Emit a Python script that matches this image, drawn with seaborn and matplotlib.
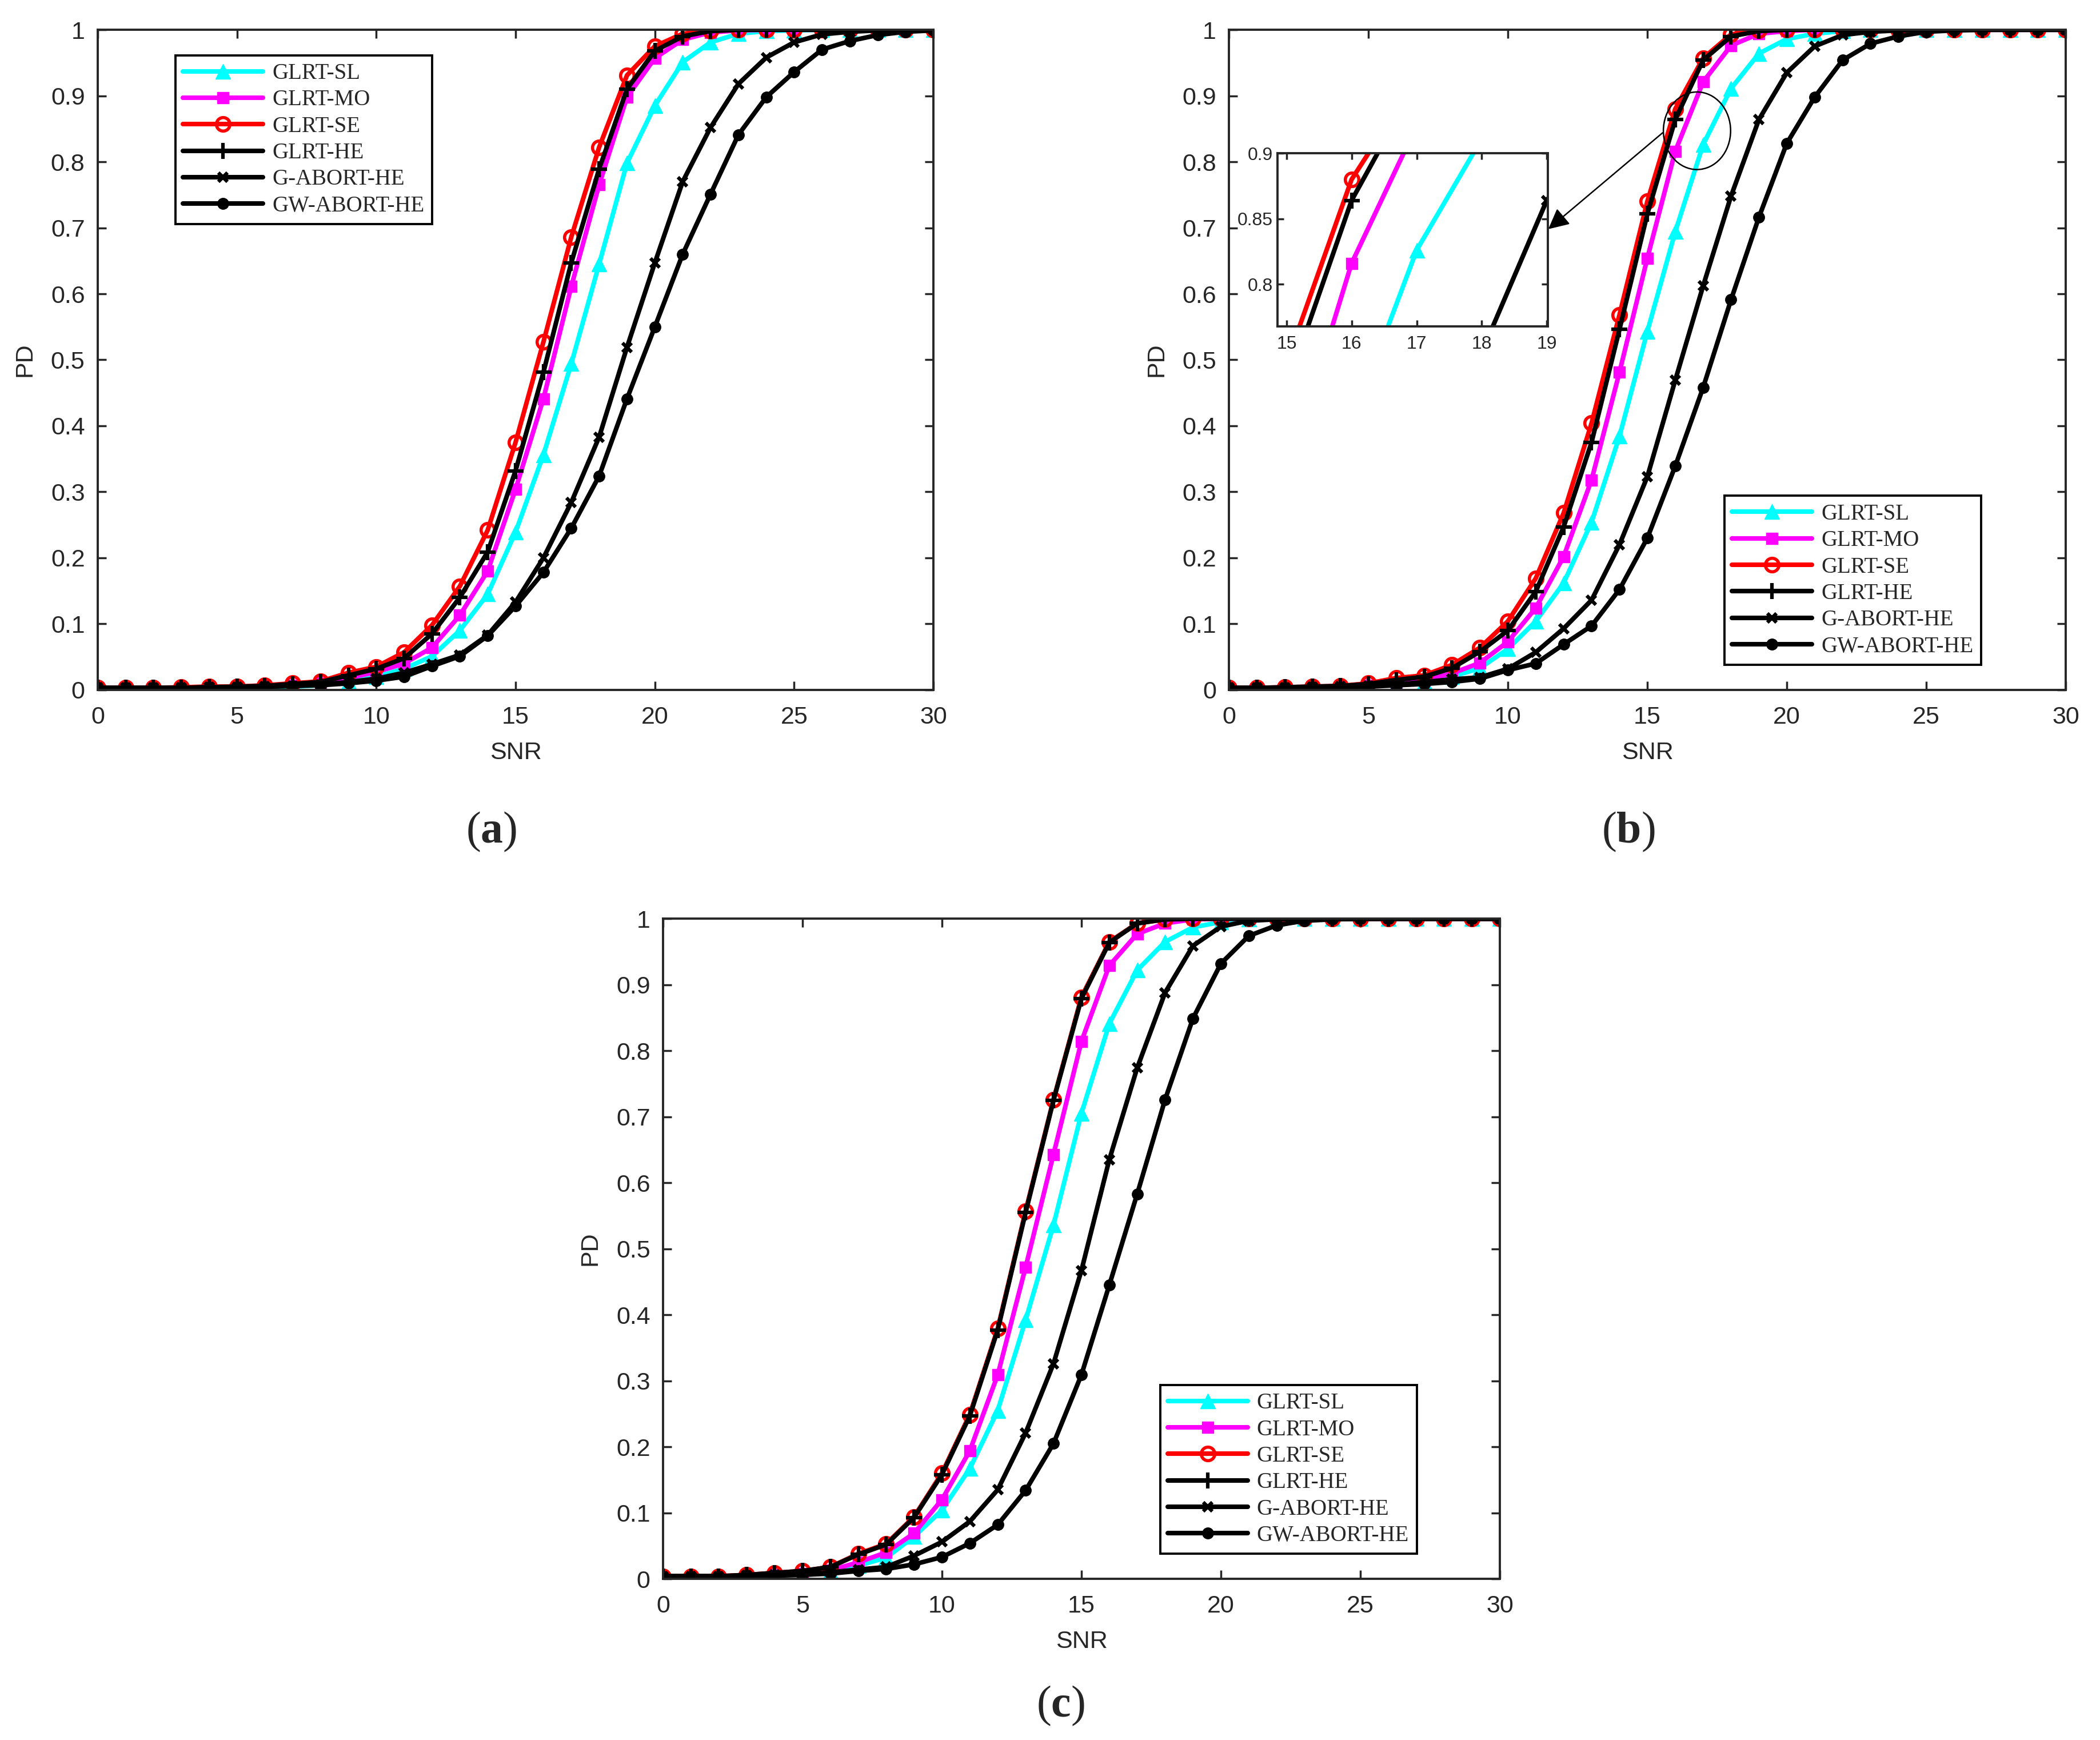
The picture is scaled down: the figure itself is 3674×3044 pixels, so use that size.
import matplotlib
matplotlib.use('Agg')
import matplotlib.pyplot as plt
from matplotlib.patches import Ellipse
from matplotlib.ticker import FuncFormatter
import seaborn as sns

sns.set_style('ticks')
plt.rcParams['font.family'] = ['Liberation Sans', 'DejaVu Sans']
plt.rcParams['mathtext.fontset'] = 'custom'
plt.rcParams['mathtext.rm'] = 'Liberation Serif'
plt.rcParams['mathtext.bf'] = 'Liberation Serif:bold'

snr = list(range(31))
methods = ['GLRT-SL', 'GLRT-MO', 'GLRT-SE', 'GLRT-HE', 'G-ABORT-HE', 'GW-ABORT-HE']
x_ticks = [0, 5, 10, 15, 20, 25, 30]
y_ticks = [0, 0.1, 0.2, 0.3, 0.4, 0.5, 0.6, 0.7, 0.8, 0.9, 1]

# ---- panel (a) ----
sl_a = [0.002, 0.002, 0.002, 0.002, 0.003, 0.003, 0.004, 0.005, 0.007, 0.012, 0.020, 0.032, 0.051, 0.090, 0.145, 0.239,
        0.356, 0.494, 0.645, 0.798, 0.885, 0.951, 0.981, 0.994, 0.998, 0.999, 1, 1, 1, 1, 1]
mo_a = [0.003, 0.003, 0.003, 0.003, 0.004, 0.004, 0.005, 0.007, 0.010, 0.018, 0.027, 0.040, 0.064, 0.113, 0.180, 0.304,
        0.441, 0.611, 0.765, 0.898, 0.957, 0.985, 0.996, 0.999, 1, 1, 1, 1, 1, 1, 1]
se_a = [0.003, 0.003, 0.003, 0.004, 0.005, 0.005, 0.007, 0.010, 0.013, 0.026, 0.035, 0.057, 0.098, 0.157, 0.242, 0.375,
        0.527, 0.686, 0.822, 0.931, 0.975, 0.994, 0.998, 1, 1, 1, 1, 1, 1, 1, 1]
he_a = [0.003, 0.003, 0.003, 0.003, 0.004, 0.005, 0.006, 0.009, 0.012, 0.022, 0.032, 0.048, 0.085, 0.140, 0.209, 0.332,
        0.481, 0.647, 0.789, 0.910, 0.968, 0.990, 0.998, 1, 1, 1, 1, 1, 1, 1, 1]
ga_a = [0.003, 0.003, 0.003, 0.003, 0.004, 0.004, 0.005, 0.006, 0.008, 0.012, 0.017, 0.026, 0.039, 0.053, 0.083, 0.133,
        0.200, 0.284, 0.383, 0.519, 0.647, 0.770, 0.852, 0.918, 0.958, 0.981, 0.993, 0.997, 0.999, 1, 1]
gw_a = [0.003, 0.003, 0.003, 0.003, 0.004, 0.004, 0.005, 0.006, 0.007, 0.010, 0.014, 0.020, 0.036, 0.051, 0.082, 0.127,
        0.178, 0.245, 0.324, 0.441, 0.550, 0.660, 0.751, 0.841, 0.898, 0.936, 0.970, 0.983, 0.992, 0.997, 0.999]

# ---- panel (b) ----
sl_b = [0.002, 0.002, 0.003, 0.003, 0.004, 0.006, 0.009, 0.012, 0.020, 0.033, 0.062, 0.104, 0.162, 0.254, 0.384, 0.543,
        0.694, 0.826, 0.911, 0.964, 0.986, 0.994, 0.998, 1, 1, 1, 1, 1, 1, 1, 1]
mo_b = [0.002, 0.002, 0.003, 0.004, 0.005, 0.007, 0.011, 0.015, 0.025, 0.041, 0.073, 0.124, 0.202, 0.318, 0.481, 0.654,
        0.816, 0.921, 0.976, 0.994, 0.998, 1, 1, 1, 1, 1, 1, 1, 1, 1, 1]
se_b = [0.003, 0.003, 0.004, 0.005, 0.006, 0.010, 0.018, 0.022, 0.038, 0.064, 0.104, 0.169, 0.268, 0.404, 0.568, 0.740,
        0.880, 0.957, 0.993, 0.999, 1, 1, 1, 1, 1, 1, 1, 1, 1, 1, 1]
he_b = [0.003, 0.003, 0.004, 0.005, 0.006, 0.009, 0.015, 0.020, 0.033, 0.058, 0.090, 0.149, 0.247, 0.375, 0.546, 0.721,
        0.864, 0.954, 0.990, 0.998, 1, 1, 1, 1, 1, 1, 1, 1, 1, 1, 1]
ga_b = [0.003, 0.003, 0.003, 0.004, 0.005, 0.006, 0.008, 0.012, 0.016, 0.019, 0.032, 0.057, 0.093, 0.136, 0.220, 0.323,
        0.469, 0.612, 0.748, 0.864, 0.935, 0.975, 0.992, 0.997, 0.999, 1, 1, 1, 1, 1, 1]
gw_b = [0.003, 0.003, 0.003, 0.004, 0.004, 0.005, 0.007, 0.009, 0.012, 0.017, 0.030, 0.040, 0.069, 0.097, 0.152, 0.230,
        0.339, 0.458, 0.591, 0.716, 0.828, 0.898, 0.954, 0.979, 0.990, 0.997, 0.999, 1, 1, 1, 1]

# ---- panel (c) ----
sl_c = [0.002, 0.002, 0.003, 0.004, 0.005, 0.007, 0.011, 0.020, 0.032, 0.064, 0.104, 0.167, 0.255, 0.392, 0.536, 0.705,
        0.841, 0.922, 0.965, 0.987, 0.995, 0.999, 1, 1, 1, 1, 1, 1, 1, 1, 1]
mo_c = [0.003, 0.003, 0.003, 0.004, 0.006, 0.008, 0.013, 0.025, 0.040, 0.069, 0.120, 0.194, 0.309, 0.472, 0.643, 0.814,
        0.929, 0.977, 0.993, 0.999, 1, 1, 1, 1, 1, 1, 1, 1, 1, 1, 1]
se_c = [0.004, 0.004, 0.004, 0.006, 0.009, 0.012, 0.018, 0.038, 0.053, 0.094, 0.160, 0.249, 0.379, 0.557, 0.726, 0.881,
        0.965, 0.993, 0.999, 1, 1, 1, 1, 1, 1, 1, 1, 1, 1, 1, 1]
he_c = [0.004, 0.004, 0.004, 0.006, 0.009, 0.012, 0.018, 0.037, 0.052, 0.093, 0.158, 0.247, 0.377, 0.555, 0.725, 0.879,
        0.964, 0.993, 0.999, 1, 1, 1, 1, 1, 1, 1, 1, 1, 1, 1, 1]
ga_c = [0.004, 0.004, 0.004, 0.005, 0.006, 0.007, 0.010, 0.014, 0.018, 0.035, 0.056, 0.087, 0.135, 0.221, 0.326, 0.467,
        0.635, 0.774, 0.888, 0.959, 0.988, 0.997, 0.999, 1, 1, 1, 1, 1, 1, 1, 1]
gw_c = [0.004, 0.004, 0.004, 0.005, 0.005, 0.006, 0.008, 0.012, 0.015, 0.022, 0.033, 0.054, 0.082, 0.134, 0.205, 0.309,
        0.445, 0.583, 0.726, 0.849, 0.932, 0.974, 0.990, 0.997, 0.999, 1, 1, 1, 1, 1, 1]

# inset of (b)
inset_x_ticks = [15, 16, 17, 18, 19]
inset_y_ticks = [0.8, 0.85, 0.9]

LW = 5.8
styles = [
    dict(color='#00FFFF', marker='^', markersize=19, markerfacecolor='#00FFFF', markeredgecolor='#00FFFF', markeredgewidth=1),
    dict(color='#FF00FF', marker='s', markersize=14, markerfacecolor='#FF00FF', markeredgecolor='#FF00FF', markeredgewidth=1),
    dict(color='#FF0000', marker='o', markersize=17, markerfacecolor='none', markeredgecolor='#FF0000', markeredgewidth=4),
    dict(color='black', marker='+', markersize=20, markerfacecolor='black', markeredgecolor='black', markeredgewidth=4.5),
    dict(color='black', marker='x', markersize=12, markerfacecolor='black', markeredgecolor='black', markeredgewidth=4.5),
    dict(color='black', marker='o', markersize=14, markerfacecolor='black', markeredgecolor='black', markeredgewidth=1),
]

AX_COLOR = '#262626'
fmt = FuncFormatter(lambda v, p: f'{v:g}')


def draw_curves(ax, series):
    handles = []
    for name, vals, st in zip(methods, series, styles):
        sns.lineplot(x=snr, y=vals, ax=ax, linewidth=LW, errorbar=None, legend=False, label=name, **st)
        handles.append(ax.lines[-1])
    return handles


def style_axes(ax, size=31, tick_len=11, xpad=20, ypad=16):
    for s in ax.spines.values():
        s.set_visible(True)
        s.set_linewidth(2.8)
        s.set_color(AX_COLOR)
    ax.tick_params(direction='in', top=True, right=True, length=tick_len, width=2.5,
                   labelsize=size, colors=AX_COLOR)
    ax.tick_params(axis='x', pad=xpad)
    ax.tick_params(axis='y', pad=ypad)
    ax.xaxis.set_major_formatter(fmt)
    ax.yaxis.set_major_formatter(fmt)


def draw_panel(fig, rect, series, leg_anchor, tag, tag_xy):
    ax = fig.add_axes(rect)
    ax.set_facecolor('white')
    handles = draw_curves(ax, series)
    ax.set_xlim(0, 30)
    ax.set_ylim(0, 1)
    ax.set_xticks(x_ticks)
    ax.set_yticks(y_ticks)
    style_axes(ax)
    ax.set_xlabel('SNR', fontsize=31, color=AX_COLOR, labelpad=16)
    ax.set_ylabel('PD', fontsize=31, color=AX_COLOR, labelpad=18)
    leg = ax.legend(handles=handles, labels=methods, loc='upper left', bbox_to_anchor=leg_anchor,
                    prop={'family': 'Liberation Serif', 'size': 28}, frameon=True, fancybox=False,
                    edgecolor='black', framealpha=1, handlelength=3.6, handletextpad=0.4,
                    labelspacing=0.24, borderpad=0.35, borderaxespad=0)
    leg.get_frame().set_linewidth(2.8)
    fig.text(tag_xy[0], tag_xy[1], tag, ha='center', va='center', fontsize=56,
             family='Liberation Serif')
    return ax


fig = plt.figure(figsize=(36.74, 30.44), dpi=100)
fig.patch.set_facecolor('white')

ax_a = draw_panel(fig, [0.0465, 0.6035, 0.398, 0.3794], [sl_a, mo_a, se_a, he_a, ga_a, gw_a],
                  (0.093, 0.9615), r'($\mathbf{a}$)', (0.234, 0.522))
ax_b = draw_panel(fig, [0.5852, 0.6035, 0.3985, 0.3794], [sl_b, mo_b, se_b, he_b, ga_b, gw_b],
                  (0.592, 0.294), r'($\mathbf{b}$)', (0.7755, 0.522))
ax_c = draw_panel(fig, [0.3157, 0.0926, 0.3985, 0.3794], [sl_c, mo_c, se_c, he_c, ga_c, gw_c],
                  (0.594, 0.294), r'($\mathbf{c}$)', (0.505, 0.0197))

# zoomed inset in (b)
ins = ax_b.inset_axes([0.058, 0.551, 0.323, 0.262])
ins.set_facecolor('white')
draw_curves(ins, [sl_b, mo_b, se_b, he_b, ga_b, gw_b])
ins.set_xlim(14.86, 19.015)
ins.set_ylim(0.768, 0.9)
ins.set_xticks(inset_x_ticks)
ins.set_yticks(inset_y_ticks)
ins.set_xlabel('')
ins.set_ylabel('')
style_axes(ins, size=23, tick_len=8, xpad=12, ypad=6)

ax_b.add_patch(Ellipse((16.78, 0.847), 2.41, 0.1175, fill=False, edgecolor='black', linewidth=1.8, zorder=5))
ax_b.annotate('', xy=(11.45, 0.698), xytext=(15.55, 0.844),
              arrowprops=dict(arrowstyle='-|>', color='black', lw=1.8, mutation_scale=55,
                              shrinkA=0, shrinkB=0), zorder=6)

fig.savefig('out.png', dpi=100, facecolor='white')
